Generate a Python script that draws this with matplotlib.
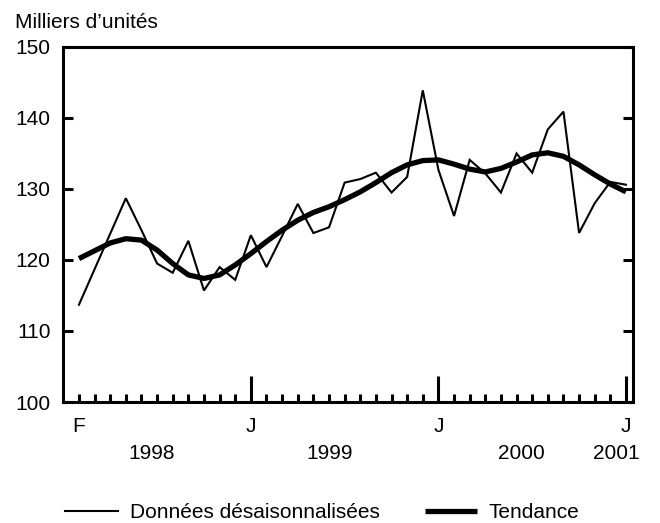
import matplotlib
matplotlib.use("Agg")
import matplotlib.pyplot as plt
from matplotlib.ticker import FixedLocator
import matplotlib.transforms as mtransforms

plt.rcParams['font.family'] = ['Liberation Sans', 'DejaVu Sans']

# Monthly data, Feb 1998 .. Jan 2001 (36 months)
months = list(range(36))
seasonally_adjusted = [113.7, 118.7, 123.7, 128.7, 124.2, 119.5, 118.2, 122.7, 115.7, 119.0,
                       117.2, 123.5, 119.0, 123.4, 127.9, 123.8, 124.6, 130.9, 131.4, 132.3,
                       129.5, 131.7, 143.9, 132.7, 126.2, 134.1, 132.2, 129.5, 135.0, 132.3,
                       138.4, 140.9, 123.8, 128.0, 131.0, 130.6]
trend = [120.2, 121.3, 122.4, 123.0, 122.8, 121.4, 119.5, 117.9, 117.4, 117.9,
         119.3, 120.9, 122.6, 124.2, 125.6, 126.7, 127.5, 128.5, 129.6, 130.9,
         132.3, 133.4, 134.0, 134.1, 133.5, 132.8, 132.4, 132.9, 133.8, 134.8,
         135.1, 134.6, 133.4, 132.0, 130.7, 129.6]

major_ticks = [0, 11, 23, 35]
major_labels = ['F', 'J', 'J', 'J']
year_labels = ['1998', '1999', '2000', '2001']
year_positions = [4.67, 16.06, 28.28, 34.36]
y_ticks = [100, 110, 120, 130, 140, 150]

FS = 15

fig = plt.figure(figsize=(6.6, 5.23), dpi=100)
ax = fig.add_axes([63/660, 1-402/523, (633-63)/660, (402-47)/523])

l1, = ax.plot(months, seasonally_adjusted, color='black', lw=1.5, label='Données désaisonnalisées',
              solid_joinstyle='miter')
l2, = ax.plot(months, trend, color='black', lw=3.8, label='Tendance', solid_capstyle='butt')

ax.set_xlim(-1.02, 35.45)
ax.set_ylim(100, 150)

for s in ax.spines.values():
    s.set_linewidth(2.2)

ax.yaxis.set_major_locator(FixedLocator(y_ticks))
ax.tick_params(axis='y', which='major', direction='in', length=7.5, width=2.2,
               left=True, right=True, labelleft=True, labelright=False,
               labelsize=FS, pad=9)

minor = [m for m in months if m not in major_ticks[1:]]
ax.xaxis.set_major_locator(FixedLocator(major_ticks))
ax.set_xticklabels(major_labels)
ax.xaxis.set_minor_locator(FixedLocator(minor))
ax.tick_params(axis='x', which='major', direction='in', length=19, width=2.2,
               bottom=True, top=False, labelsize=FS, pad=11)
ax.tick_params(axis='x', which='minor', direction='in', length=6, width=2.2,
               bottom=True, top=False)
# F position has only a short tick
ax.xaxis.get_major_ticks()[0].tick1line.set_markersize(6)

trans = mtransforms.blended_transform_factory(ax.transData, ax.transAxes)
for xp, yl in zip(year_positions, year_labels):
    ax.text(xp, -0.1437, yl, transform=trans, ha='center', va='center', fontsize=FS)

fig.text(15/660, 1-28/523, "Milliers d\u2019unités", ha='left', va='baseline', fontsize=FS)

fig.legend(handles=[l1, l2], loc='center', bbox_to_anchor=(0.4886, 1-513/523), ncol=2,
           frameon=False, fontsize=FS, handlelength=2.5, handletextpad=0.58,
           columnspacing=2.16, borderpad=0, borderaxespad=0)

fig.savefig('out.png', dpi=100)
